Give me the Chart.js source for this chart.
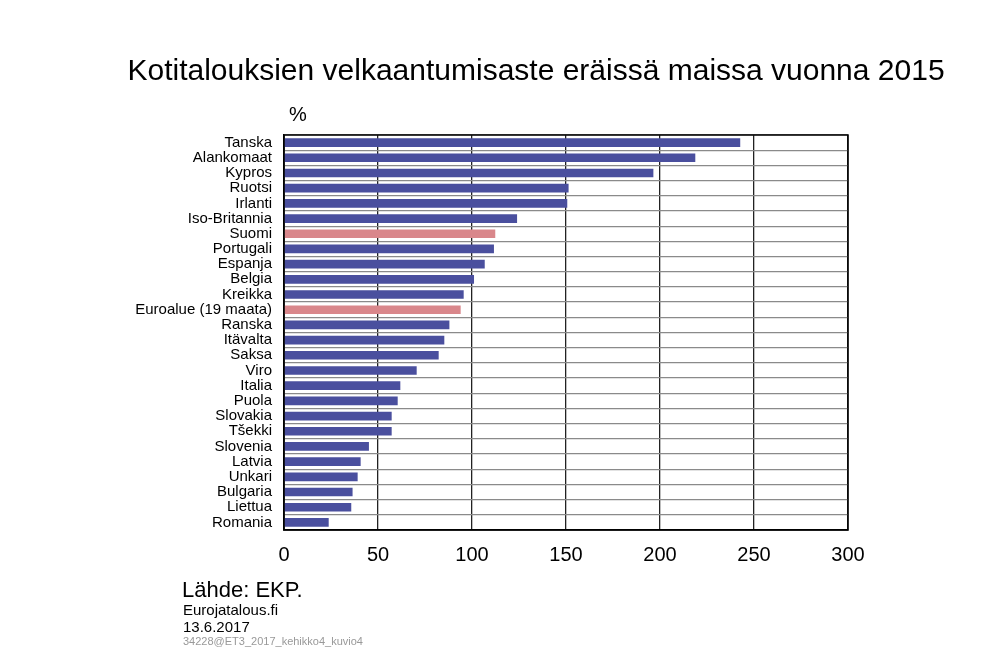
<!DOCTYPE html>
<html>
<head>
<meta charset="utf-8">
<script src="https://cdn.jsdelivr.net/npm/chart.js@4/dist/chart.umd.min.js"></script>
<style>
  html, body { margin: 0; padding: 0; background: #fff; }
  #wrap { width: 1000px; height: 653px; position: relative; }
</style>
</head>
<body>
<div id="wrap"><canvas id="velka"></canvas></div>
<script>
// Maat ja velkaantumisaste (% käytettävissä olevista tuloista), 2015
const maat = ['Tanska','Alankomaat','Kypros','Ruotsi','Irlanti','Iso-Britannia','Suomi',
  'Portugali','Espanja','Belgia','Kreikka','Euroalue (19 maata)','Ranska','Itävalta',
  'Saksa','Viro','Italia','Puola','Slovakia','Tšekki','Slovenia','Latvia','Unkari',
  'Bulgaria','Liettua','Romania'];
const arvot = [242.5, 218.6, 196.3, 151.2, 150.5, 123.8, 112.2, 111.5, 106.6, 100.9,
  95.4, 93.8, 87.8, 85.1, 82.1, 70.4, 61.7, 60.3, 57.1, 57.1, 45.0, 40.6, 39.0,
  36.3, 35.6, 23.6];
const korostetut = ['Suomi', 'Euroalue (19 maata)'];
const xTicks = [0, 50, 100, 150, 200, 250, 300];

const SININEN = '#4a4f9e';
const PUNAINEN = '#d9878b';
const fontti = 'Liberation Sans, Arial, sans-serif';

// Lisätekstit: otsikko, yksikkö ja lähde
const tekstit = {
  id: 'tekstit',
  afterDraw(chart) {
    const c = chart.ctx;
    c.save();
    c.fillStyle = '#000';
    c.textBaseline = 'alphabetic';
    c.textAlign = 'center';
    c.font = '30px ' + fontti;
    c.fillText('Kotitalouksien velkaantumisaste eräissä maissa vuonna 2015', 536, 80);
    c.textAlign = 'left';
    c.font = '20px ' + fontti;
    c.fillText('%', 289, 121);
    c.font = '22px ' + fontti;
    c.fillText('Lähde: EKP.', 182, 597);
    c.font = '15px ' + fontti;
    c.fillText('Eurojatalous.fi', 183, 615);
    c.fillText('13.6.2017', 183, 632);
    c.fillStyle = '#999';
    c.font = '11px ' + fontti;
    c.fillText('34228@ET3_2017_kehikko4_kuvio4', 183, 645);
    c.restore();
  }
};

new Chart(document.getElementById('velka'), {
  type: 'bar',
  data: {
    labels: maat,
    datasets: [{
      data: arvot,
      backgroundColor: maat.map(m => korostetut.includes(m) ? PUNAINEN : SININEN),
      barThickness: 8
    }]
  },
  options: {
    indexAxis: 'y',
    responsive: true,
    maintainAspectRatio: false,
    animation: false,
    layout: { padding: { left: 0, right: 152, top: 135, bottom: 0 } },
    plugins: { legend: { display: false }, tooltip: { enabled: false } },
    scales: {
      x: {
        min: 0,
        max: 300,
        afterBuildTicks(s) { s.ticks = xTicks.map(v => ({ value: v })); },
        afterFit(s) { s.height = 123; },
        border: { display: true, color: '#000', width: 1.5 },
        grid: { color: '#222', lineWidth: 1.3, drawTicks: false },
        ticks: { color: '#000', font: { family: fontti, size: 20 }, padding: 13 }
      },
      y: {
        afterFit(s) { s.width = 284; },
        border: { display: true, color: '#000', width: 1.5 },
        grid: { color: '#8a8a8a', lineWidth: 1.3, drawTicks: false },
        ticks: { color: '#000', font: { family: fontti, size: 15 }, padding: 12, autoSkip: false }
      }
    }
  },
  plugins: [tekstit, {
    id: 'kehys',
    afterDraw(chart) {
      const a = chart.chartArea, c = chart.ctx;
      c.save();
      c.strokeStyle = '#000';
      c.lineWidth = 1.5;
      c.strokeRect(a.left, a.top, a.right - a.left, a.bottom - a.top);
      c.restore();
    }
  }]
});
</script>
</body>
</html>
